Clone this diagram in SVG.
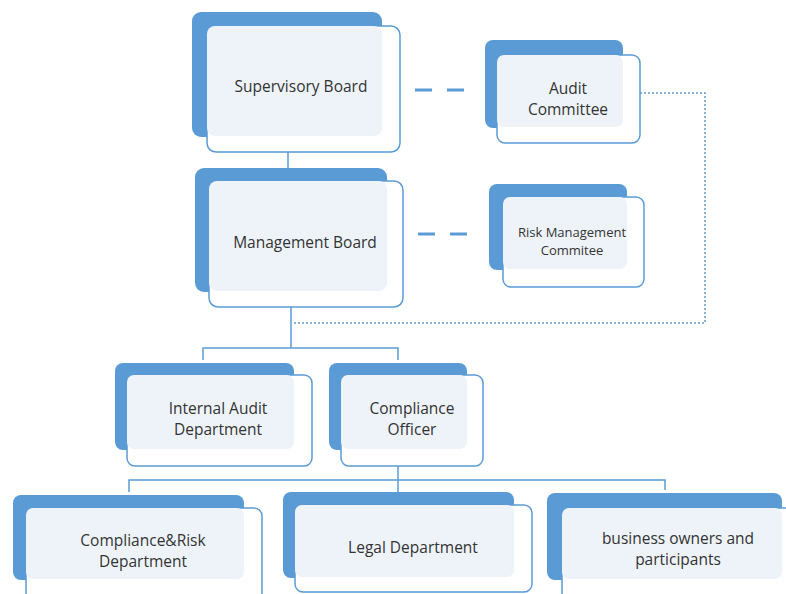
<svg xmlns="http://www.w3.org/2000/svg" width="786" height="594" viewBox="0 0 786 594">
  <style>
    .back { fill: #5b9bd5; }
    .front { fill: #ffffff; stroke: #5b9bd5; stroke-width: 1.5; }
    .tint { fill: #eef3fa; }
    .label { font-family: "Open Sans", "Liberation Sans", sans-serif; font-size: 15.5px; fill: #333333; text-anchor: middle; }
    .small { font-size: 13px; }
    .link { fill: none; stroke: #5b9bd5; stroke-width: 1.5; }
    .dash { fill: none; stroke: #5b9bd5; stroke-width: 3; stroke-dasharray: 17 15; }
    .dot { fill: none; stroke: #5b9bd5; stroke-width: 1.5; stroke-dasharray: 2 2; }
  </style>
  <rect width="786" height="594" fill="#ffffff"/>

  <g id="connectors">
    <path class="link" d="M288 152 V168"/>
    <path class="link" d="M291 307 V348 M203 360 V348 H398 V360"/>
    <path class="link" d="M398 466 V492 M129 492 V480 H665 V490"/>
    <path class="dash" d="M415 90 H465"/>
    <path class="dash" d="M418 234 H468"/>
    <path class="dot" d="M640 93 H705 V323 H293"/>
  </g>

  <g id="supervisory-board">
    <rect class="back" x="192" y="12" width="190" height="125" rx="9"/>
    <rect class="front" x="207" y="26" width="193" height="126" rx="9"/>
    <rect class="tint" x="207" y="26" width="175" height="110" rx="8"/>
    <text class="label" x="301" y="92">Supervisory Board</text>
  </g>

  <g id="audit-committee">
    <rect class="back" x="485" y="40" width="138" height="88" rx="8"/>
    <rect class="front" x="497" y="55" width="143" height="88" rx="8"/>
    <rect class="tint" x="497" y="55" width="126" height="72" rx="7"/>
    <text class="label" x="568" y="94">Audit</text>
    <text class="label" x="568" y="115">Committee</text>
  </g>

  <g id="management-board">
    <rect class="back" x="195" y="168" width="192" height="124" rx="9"/>
    <rect class="front" x="209" y="181" width="194" height="126" rx="9"/>
    <rect class="tint" x="209" y="181" width="178" height="110" rx="8"/>
    <text class="label" x="305" y="248">Management Board</text>
  </g>

  <g id="risk-management-committee">
    <rect class="back" x="489" y="184" width="138" height="86" rx="8"/>
    <rect class="front" x="503" y="197" width="141" height="90" rx="8"/>
    <rect class="tint" x="503" y="197" width="124" height="72" rx="7"/>
    <text class="label small" x="572" y="237">Risk Management</text>
    <text class="label small" x="572" y="255">Commitee</text>
  </g>

  <g id="internal-audit-department">
    <rect class="back" x="115" y="363" width="179" height="87" rx="8"/>
    <rect class="front" x="127" y="375" width="185" height="91" rx="8"/>
    <rect class="tint" x="127" y="375" width="167" height="74" rx="7"/>
    <text class="label" x="218" y="414">Internal Audit</text>
    <text class="label" x="218" y="435">Department</text>
  </g>

  <g id="compliance-officer">
    <rect class="back" x="329" y="363" width="138" height="87" rx="8"/>
    <rect class="front" x="341" y="375" width="142" height="91" rx="8"/>
    <rect class="tint" x="341" y="375" width="126" height="74" rx="7"/>
    <text class="label" x="412" y="414">Compliance</text>
    <text class="label" x="412" y="435">Officer</text>
  </g>

  <g id="compliance-risk-department">
    <rect class="back" x="13" y="495" width="231" height="85" rx="8"/>
    <rect class="front" x="26" y="508" width="236" height="100" rx="8"/>
    <rect class="tint" x="26" y="508" width="218" height="71" rx="7"/>
    <text class="label" x="143" y="546">Compliance&amp;Risk</text>
    <text class="label" x="143" y="567">Department</text>
  </g>

  <g id="legal-department">
    <rect class="back" x="283" y="492" width="231" height="86" rx="8"/>
    <rect class="front" x="295" y="505" width="237" height="87" rx="8"/>
    <rect class="tint" x="295" y="505" width="219" height="72" rx="7"/>
    <text class="label" x="413" y="553">Legal Department</text>
  </g>

  <g id="business-owners">
    <rect class="back" x="547" y="493" width="235" height="87" rx="8"/>
    <rect class="front" x="562" y="508" width="240" height="100" rx="8"/>
    <rect class="tint" x="562" y="508" width="220" height="71" rx="7"/>
    <text class="label" x="678" y="544">business owners and</text>
    <text class="label" x="678" y="565">participants</text>
  </g>
</svg>
